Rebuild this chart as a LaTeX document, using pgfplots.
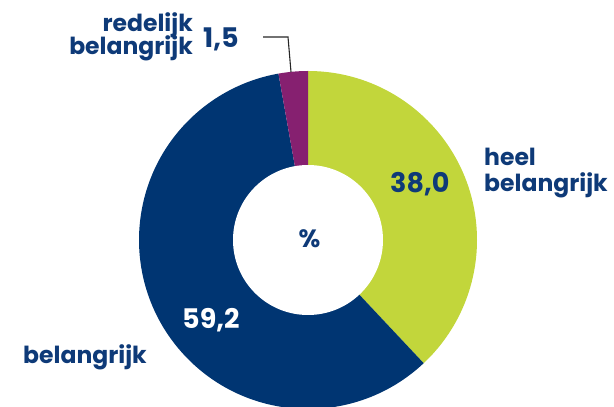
\documentclass[border=0pt]{standalone}
\usepackage{fontspec}
\setmainfont{Poppins}
\usepackage{pgfplots}
\pgfplotsset{compat=1.18}

\definecolor{cgreen}{HTML}{C2D63B}
\definecolor{cnavy}{HTML}{003572}
\definecolor{cpurple}{HTML}{862070}
\definecolor{ctext}{HTML}{0E3A78}

\begin{document}
\begin{tikzpicture}
\begin{axis}[
  name=ax,
  scale only axis,
  width=614pt, height=407pt,
  xmin=0, xmax=614, ymin=0, ymax=407,
  hide axis,
]
% shares in percent: heel belangrijk, belangrijk, redelijk belangrijk (drawn as remainder)
\def\cx{308}\def\cy{167}
\pgfmathsetmacro{\aA}{90}
\pgfmathsetmacro{\aB}{90-38.0*3.6}
\pgfmathsetmacro{\aC}{\aB-59.2*3.6}
\begin{scope}
\clip (rel axis cs:0,0) rectangle (rel axis cs:1,1);
\fill[cgreen]  (axis cs:\cx,\cy) -- ++(\aA:169pt) arc[start angle=\aA, end angle=\aB, radius=169pt] -- cycle;
\fill[cnavy]   (axis cs:\cx,\cy) -- ++(\aB:169pt) arc[start angle=\aB, end angle=\aC, radius=169pt] -- cycle;
\fill[cpurple] (axis cs:\cx,\cy) -- ++(\aC:169pt) arc[start angle=\aC, end angle=-270, radius=169pt] -- cycle;
\fill[white] (axis cs:\cx,\cy) circle[radius=75pt];
\end{scope}

% leader line
\draw[black!85, line width=1.1pt] (axis cs:263,370) -- (axis cs:288,370) -- (axis cs:291,335);

\begin{scope}[every node/.style={inner sep=0pt, text=ctext, font=\bfseries\fontsize{23.5}{26}\selectfont}]
\node[anchor=base east] at (axis cs:193,375) {redelijk};
\node[anchor=base east] at (axis cs:193,352) {belangrijk};
\node[anchor=base west] at (axis cs:484,241) {heel};
\node[anchor=base west] at (axis cs:484,215) {belangrijk};
\node[anchor=base west] at (axis cs:23,43) {belangrijk};
\end{scope}
\begin{scope}[every node/.style={inner sep=0pt, text=ctext, font=\bfseries\fontsize{27}{30}\selectfont}]
\node[anchor=base west] at (axis cs:203,359) {1,5};
\node[anchor=base west] at (axis cs:390,214) {38,0};
\node[anchor=base west, text=white] at (axis cs:182,78) {59,2};
\node[anchor=base, font=\bfseries\fontsize{25}{30}\selectfont] at (axis cs:309.5,159) {\%};
\end{scope}
\end{axis}
\pgfresetboundingbox
\path (ax.south west) rectangle (ax.north east);
\end{tikzpicture}
\end{document}
